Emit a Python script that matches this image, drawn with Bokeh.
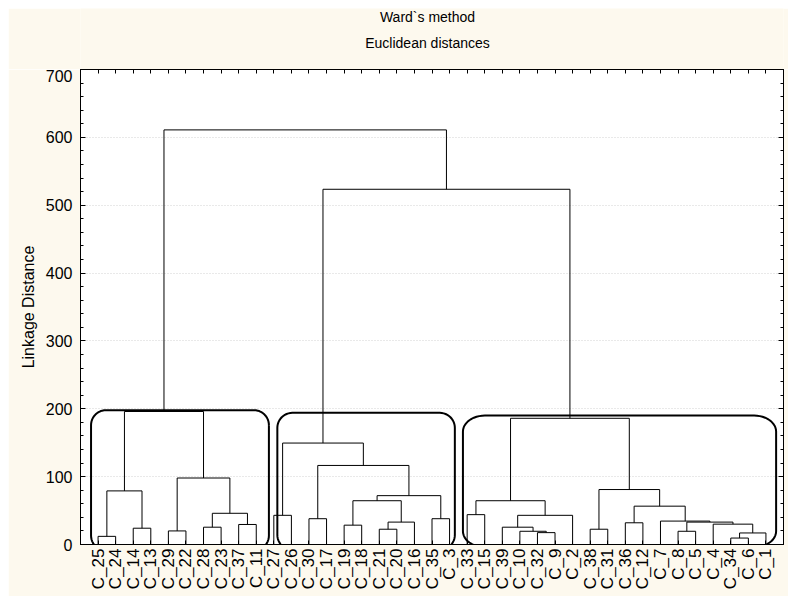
import math
from bokeh.plotting import figure
from bokeh.models import LinearAxis, FixedTicker, Range1d, Spacer
from bokeh.core.properties import value
from bokeh.layouts import row, column
from bokeh.embed import file_html
from bokeh.resources import INLINE

# ---------------- data ----------------
leaves = ["C_25", "C_24", "C_14", "C_13", "C_29", "C_22", "C_28", "C_23", "C_37", "C_11",
          "C_27", "C_26", "C_30", "C_17", "C_19", "C_18", "C_21", "C_20", "C_16", "C_35", "C_3",
          "C_33", "C_15", "C_39", "C_10", "C_32", "C_9", "C_2", "C_38", "C_31", "C_36", "C_12",
          "C_7", "C_8", "C_5", "C_4", "C_34", "C_6", "C_1"]

# merges in order: node "m<k>" = merge_a[k] + merge_b[k] at merge_height[k]
merge_a = ["C_25", "C_14", "m0", "C_29", "C_28", "C_37", "m4", "m3", "m2",
           "C_27", "C_30", "C_19", "C_21", "m12", "C_35", "m11", "m15", "m10", "m9",
           "C_33", "C_32", "C_10", "C_39", "m22", "m19", "C_38", "C_36", "C_8", "C_34",
           "m28", "C_4", "m27", "C_7", "m26", "m25", "m24", "m18", "m8"]
merge_b = ["C_24", "C_13", "m1", "C_22", "C_23", "C_11", "m5", "m6", "m7",
           "C_26", "C_17", "C_18", "C_20", "C_16", "C_3", "m13", "m14", "m16", "m17",
           "C_15", "C_9", "m20", "m21", "C_2", "m23", "C_31", "C_12", "C_5", "C_6",
           "C_1", "m29", "m30", "m31", "m32", "m33", "m34", "m35", "m36"]
merge_height = [12, 24, 79, 20, 25.5, 29.5, 46, 98, 196,
                43, 38, 28.5, 22.5, 33, 38, 64.5, 72, 116.5, 149.5,
                44, 17.5, 19.5, 25.5, 43, 64.5, 22.5, 32, 19.5, 9.5,
                17, 30, 33, 34.5, 56.5, 81, 186, 523.5, 611]

y_ticks = [0, 100, 200, 300, 400, 500, 600, 700]
title_lines = ["Ward`s method", "Euclidean distances"]

# hand-drawn cluster outlines (in axis units)
box_x0 = [0.6, 11.2, 21.76]
box_x1 = [10.72, 21.3, 39.58]
box_top = [198, 194, 190]
box_bottom = [-9, -8, -4]

# ---------------- layout ----------------
W = 780
TH = 61                      # title strip height
H = 588 - TH                 # main figure height
FL, FR, FB = 72, 5, 52
frame_w = W - FL - FR
frame_h = H - FB
XMAX, YMAX = len(leaves) + 1, 700
px_x = frame_w / XMAX
px_y = frame_h / YMAX
cream = "#fdf9ee"
FONT = "Liberation Sans"

# ---- title strip (its frame is the whole strip, measured in pixels) ----
t = figure(width=W, height=TH, x_range=Range1d(0, W), y_range=Range1d(0, TH),
           output_backend="svg", toolbar_location=None,
           x_axis_location=None, y_axis_location=None,
           min_border_left=0, min_border_right=0, min_border_top=0, min_border_bottom=0,
           border_fill_color=cream, background_fill_color=cream, outline_line_color=None)
t.xgrid.visible = False
t.ygrid.visible = False
t.text(x=[385, 385], y=[TH - 8, TH - 34], text=title_lines,
       text_align="center", text_baseline="middle",
       text_font=value(FONT), text_font_size="14px", text_color="black")

# ---- main dendrogram ----
p = figure(width=W, height=H, x_range=Range1d(0, XMAX), y_range=Range1d(0, YMAX),
           output_backend="svg", toolbar_location=None,
           min_border_left=FL, min_border_right=FR, min_border_top=0, min_border_bottom=FB,
           border_fill_color=cream, background_fill_color="white",
           outline_line_color="black", outline_line_width=1)

# dendrogram links
pos = {name: i + 1 for i, name in enumerate(leaves)}
hgt = {name: 0.0 for name in leaves}
xs, ys = [], []
for k, (a, b, h) in enumerate(zip(merge_a, merge_b, merge_height)):
    xa, xb = pos[a], pos[b]
    xs.append([xa, xa, xb, xb])
    ys.append([hgt[a], h, h, hgt[b]])
    pos["m%d" % k] = (xa + xb) / 2
    hgt["m%d" % k] = h
p.multi_line(xs, ys, line_color="black", line_width=1)

# rounded outlines
def rounded(x0, x1, y0, y1, rx, ry):
    rxd, ryd = rx / px_x, ry / px_y
    pts_x, pts_y = [], []
    corners = [(x1 - rxd, y1 - ryd, 0), (x0 + rxd, y1 - ryd, 90),
               (x0 + rxd, y0 + ryd, 180), (x1 - rxd, y0 + ryd, 270)]
    for cx, cy, a0 in corners:
        for s in range(13):
            ang = math.radians(a0 + 90 * s / 12)
            pts_x.append(cx + rxd * math.cos(ang))
            pts_y.append(cy + ryd * math.sin(ang))
    pts_x.append(pts_x[0]); pts_y.append(pts_y[0])
    return pts_x, pts_y

bx, by = [], []
radii = [(15, 15), (15, 15), (22, 16)]
for x0, x1, tp, b, (rx, ry) in zip(box_x0, box_x1, box_top, box_bottom, radii):
    X, Y = rounded(x0, x1, b, tp, rx, ry)
    bx.append(X); by.append(Y)
p.multi_line(bx, by, line_color="black", line_width=2)

# axes
p.xaxis.ticker = FixedTicker(ticks=list(range(1, len(leaves) + 1)))
p.xaxis.major_label_overrides = {i + 1: n for i, n in enumerate(leaves)}
p.xaxis.major_label_orientation = math.pi / 2
p.xaxis.major_tick_in = 4
p.xaxis.major_tick_out = 0
p.xaxis.minor_tick_line_color = None
p.xaxis.major_label_standoff = 4
p.xaxis.major_label_text_font = FONT
p.xaxis.major_label_text_font_size = "17px"
p.xaxis.major_label_text_color = "black"
p.xaxis.axis_line_color = "black"

p.yaxis.ticker = FixedTicker(ticks=y_ticks, minor_ticks=list(range(0, 701, 20)))
p.yaxis.major_tick_in = 5
p.yaxis.major_tick_out = 0
p.yaxis.minor_tick_in = 3
p.yaxis.minor_tick_out = 0
p.yaxis.major_label_standoff = 8
p.yaxis.major_label_text_font = FONT
p.yaxis.major_label_text_font_size = "16px"
p.yaxis.major_label_text_color = "black"
p.yaxis.axis_label = "Linkage Distance"
p.yaxis.axis_label_text_font = FONT
p.yaxis.axis_label_text_font_size = "16px"
p.yaxis.axis_label_text_font_style = "normal"
p.yaxis.axis_label_text_color = "black"
p.yaxis.axis_label_standoff = 6
p.yaxis.axis_line_color = "black"

right = LinearAxis(ticker=FixedTicker(ticks=y_ticks, minor_ticks=list(range(0, 701, 20))),
                   major_tick_in=5, major_tick_out=0, minor_tick_in=3, minor_tick_out=0,
                   major_label_text_font_size="0px", major_label_text_color=None,
                   major_label_standoff=0, axis_line_color="black")
p.add_layout(right, "right")
top = LinearAxis(ticker=FixedTicker(ticks=list(range(1, len(leaves) + 1))),
                 major_tick_in=4, major_tick_out=0, minor_tick_line_color=None,
                 major_label_text_font_size="0px", major_label_text_color=None,
                 major_label_standoff=0, axis_line_color="black")
p.add_layout(top, "above")

p.xgrid.visible = False
p.ygrid.ticker = FixedTicker(ticks=[100, 200, 300, 400, 500, 600])
p.ygrid.grid_line_color = "#d2d2d2"
p.ygrid.grid_line_dash = "1 2"

layout = row(Spacer(width=8, height=596),
             column(Spacer(width=W, height=8), t, p))
open("out.html", "w").write(file_html(layout, INLINE))
